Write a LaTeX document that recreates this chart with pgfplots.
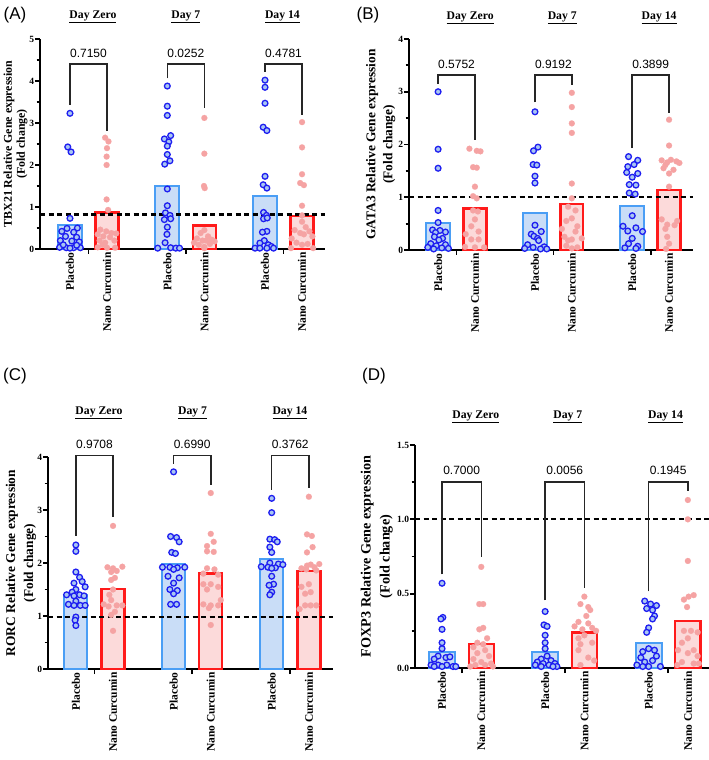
\documentclass[border=0pt]{standalone}
\usepackage{pgfplots}
\pgfplotsset{compat=1.18}
\usepackage{fontspec}
\setmainfont{Liberation Serif}
\newfontfamily\arial{Liberation Sans}
\definecolor{pbfill}{HTML}{C9DDF7}
\definecolor{pbedge}{HTML}{4A9EF5}
\definecolor{pblue}{HTML}{1E1EF0}
\definecolor{pmfill}{HTML}{A9C6F2}
\definecolor{nfill}{HTML}{FCDADA}
\definecolor{nedge}{HTML}{FF1A1A}
\definecolor{npink}{HTML}{F5A3A3}
\newcommand{\bracket}[5]{\draw[line width=1.5pt,black!85] (axis cs:#1,#3) |- (axis cs:#2,#5) -- (axis cs:#2,#4);}
\pgfplotsset{
  panel/.style={
    scale only axis, clip=false,
    axis x line=bottom, axis y line=left,
    axis line style={-, line width=2pt},
    tick align=outside, major tick length=5pt, minor tick length=3.5pt,
    tick style={line width=1.8pt, black},
    xtick={0.5,3.135,5.77}, xticklabels={},
    extra x ticks={0,1,2.63,3.63,5.27,6.27},
    extra x tick labels={Placebo,Nano Curcumin,Placebo,Nano Curcumin,Placebo,Nano Curcumin},
    extra x tick style={major tick length=0pt, tick label style={rotate=90, anchor=east, font=\bfseries\fontsize{11.5}{12}\selectfont}},
    yticklabel style={font=\bfseries\fontsize{9.5}{10}\selectfont, inner xsep=0.8pt},
    /pgf/number format/assume math mode=true,
    ylabel style={align=center, anchor=center},
  },
  pbar/.style={ybar, bar shift=0pt, fill=pbfill, draw=pbedge, line width=2pt},
  nbar/.style={ybar, bar shift=0pt, fill=nfill, draw=nedge, line width=2.4pt},
  pdot/.style={only marks, mark=*, mark size=2.9pt, color=pblue, mark options={draw=pblue, fill=pmfill, line width=1.3pt}},
  ndot/.style={only marks, mark=*, mark size=3pt, color=npink, mark options={draw=npink, fill=npink, line width=0.1pt}},
  dline/.style={black, line width=2.2pt, dash pattern=on 5pt off 3.5pt},
}
\newcommand{\pv}[3]{\node[font=\arial\fontsize{12}{12}\selectfont] at (axis cs:#1,#2) {#3};}
\newcommand{\dayl}[3]{\node[font=\bfseries\fontsize{11.7}{12}\selectfont] at (axis cs:#1,#2) {\underline{#3}};}
\begin{document}
\begin{tikzpicture}
\useasboundingbox (0,0) rectangle (709pt,760pt);
\node[font=\arial\fontsize{17}{17}\selectfont] at (15pt,745pt) {(A)};
\node[font=\arial\fontsize{17}{17}\selectfont] at (368pt,745pt) {(B)};
\node[font=\arial\fontsize{17}{17}\selectfont] at (15pt,384pt) {(C)};
\node[font=\arial\fontsize{17}{17}\selectfont] at (374pt,384pt) {(D)};

% ---------------- Panel A ----------------
\begin{axis}[panel, at={(40pt,511pt)}, anchor=south west, width=285pt, height=210pt,
  xmin=-0.81, xmax=6.89, ymin=0, ymax=5, ytick={0,1,2,3,4,5}, minor y tick num=1,
  ylabel={TBX21 Relative Gene expression\\(Fold change)},
  ylabel style={font=\bfseries\fontsize{11.9}{13}\selectfont, at={(axis description cs:-0.086,0.5)}}]
\addplot[pbar, bar width=0.64] coordinates {(0,0.58) (2.63,1.50) (5.27,1.26)};
\addplot[nbar, bar width=0.62] coordinates {(1,0.87) (3.63,0.56) (6.27,0.78)};
\addplot[pdot] table {
0 3.23
-0.06 2.43
0.03 2.31
0 0.73
0.2 0.5
-0.08 0.49
-0.22 0.42
0.1 0.4
-0.12 0.3
0.18 0.28
-0.26 0.2
0.05 0.19
0.25 0.17
-0.28 0.04
-0.1 0.03
0.1 0.03
0.28 0.03
-0.18 0.1
0.0 0.02
0.18 0.09
2.63 3.88
2.63 3.40
2.63 3.18
2.72 2.70
2.55 2.62
2.67 2.55
2.63 2.45
2.63 2.25
2.70 2.10
2.56 2.02
2.63 1.43
2.63 1.03
2.58 0.86
2.70 0.80
2.55 0.70
2.72 0.72
2.63 0.52
2.62 0.35
2.57 0.15
2.37 0.02
2.72 0.03
2.86 0.02
2.96 0.02
5.27 4.02
5.27 3.85
5.27 3.47
5.22 2.90
5.32 2.82
5.27 1.73
5.22 1.53
5.32 1.45
5.23 0.87
5.31 0.80
5.23 0.72
5.33 0.74
5.32 0.42
5.20 0.40
5.25 0.20
5.13 0.14
5.36 0.10
5.44 0.06
5.00 0.02
5.13 0.02
5.32 0.02
5.50 0.02
};
\addplot[ndot] table {
0.95 2.65
1.04 2.56
1.0 2.4
0.99 2.2
0.99 2.0
0.99 1.18
1.03 0.93
0.82 0.46
0.98 0.42
1.12 0.38
1.25 0.37
0.75 0.35
0.9 0.3
1.08 0.28
0.8 0.2
1.2 0.2
0.95 0.15
0.75 0.04
1.0 0.03
1.22 0.03
0.88 0.1
3.63 3.12
3.63 2.27
3.62 1.5
3.64 1.45
3.63 0.45
3.53 0.38
3.73 0.3
3.43 0.25
3.83 0.22
3.58 0.2
3.68 0.2
3.91 0.18
3.35 0.15
3.78 0.12
3.48 0.1
3.63 0.05
3.63 0.02
6.27 3.02
6.27 2.42
6.27 1.78
6.22 1.57
6.32 1.52
6.27 1.03
6.27 0.8
6.27 0.65
6.37 0.52
6.07 0.45
6.47 0.42
6.22 0.38
6.32 0.35
6.55 0.30
5.99 0.25
6.12 0.15
6.42 0.12
6.27 0.1
5.97 0.02
6.57 0.02
};
\addplot[dline] coordinates {(-0.81,0.82) (6.89,0.82)};
\bracket{0}{1}{3.43}{2.81}{4.40}
\bracket{2.63}{3.63}{4.06}{3.35}{4.40}
\bracket{5.27}{6.27}{4.22}{3.19}{4.40}
\pv{0.5}{4.66}{0.7150}
\pv{3.13}{4.66}{0.0252}
\pv{5.77}{4.66}{0.4781}
\dayl{0.62}{5.52}{Day Zero}
\dayl{3.13}{5.52}{Day 7}
\dayl{5.74}{5.52}{Day 14}
\end{axis}

% ---------------- Panel B ----------------
\begin{axis}[panel, at={(409pt,510pt)}, anchor=south west, width=284pt, height=211pt,
  xmin=-0.79, xmax=6.92, ymin=0, ymax=4, ytick={0,1,2,3,4}, minor y tick num=1,
  ylabel={GATA3 Relative Gene expression\\(Fold change)},
  ylabel style={font=\bfseries\fontsize{13.4}{17}\selectfont, at={(axis description cs:-0.1,0.5)}}]
\addplot[pbar, bar width=0.64] coordinates {(0,0.52) (2.63,0.71) (5.27,0.83)};
\addplot[nbar, bar width=0.62] coordinates {(1,0.79) (3.63,0.87) (6.27,1.14)};
\addplot[pdot] table {
0 3.0
0 1.91
0 1.55
0 0.75
0 0.52
-0.15 0.38
0.05 0.37
0.2 0.34
-0.07 0.33
-0.1 0.25
0.12 0.22
0.02 0.19
-0.2 0.12
0.2 0.1
-0.05 0.08
-0.28 0.05
0.1 0.04
0.28 0.03
-0.12 0.02
2.63 2.62
2.71 1.95
2.59 1.88
2.58 1.62
2.68 1.61
2.63 1.40
2.63 1.27
2.63 0.47
2.80 0.35
2.53 0.30
2.60 0.26
2.70 0.22
2.73 0.18
2.43 0.10
2.88 0.06
2.58 0.05
2.35 0.03
2.78 0.02
2.95 0.02
5.17 1.77
5.42 1.70
5.32 1.62
5.15 1.58
5.12 1.47
5.42 1.45
5.27 1.38
5.19 1.24
5.37 1.23
5.19 1.08
5.35 1.06
5.27 0.65
5.02 0.45
5.37 0.42
5.15 0.36
5.55 0.35
5.27 0.22
5.17 0.12
5.42 0.07
5.07 0.04
5.37 0.03
};
\addplot[ndot] table {
0.85 1.92
1.05 1.88
1.15 1.87
0.95 1.57
1.05 1.56
1.0 1.2
0.95 1.02
1.05 0.98
0.95 0.75
1.08 0.73
1.0 0.58
0.9 0.45
1.1 0.35
0.75 0.3
0.9 0.2
1.1 0.2
0.73 0.06
1.25 0.05
1.0 0.05
3.63 2.98
3.63 2.71
3.63 2.40
3.63 2.22
3.63 1.26
3.63 0.98
3.53 0.82
3.73 0.75
3.63 0.60
3.48 0.55
3.78 0.45
3.36 0.40
3.73 0.35
3.43 0.25
3.90 0.22
3.63 0.20
3.53 0.18
3.48 0.08
3.78 0.05
3.63 0.03
6.27 2.47
6.27 1.98
6.07 1.70
6.32 1.71
6.47 1.68
6.22 1.66
6.55 1.65
6.17 1.61
6.12 1.55
6.39 1.52
6.27 1.45
6.27 1.20
6.07 0.58
6.49 0.55
6.22 0.48
6.42 0.47
6.17 0.40
6.22 0.25
6.27 0.12
6.19 0.02
};
\addplot[dline] coordinates {(-0.79,1.01) (6.92,1.01)};
\bracket{0}{1}{3.15}{2.09}{3.32}
\bracket{2.63}{3.63}{2.80}{3.13}{3.32}
\bracket{5.27}{6.27}{1.93}{2.59}{3.32}
\pv{0.5}{3.51}{0.5752}
\pv{3.13}{3.51}{0.9192}
\pv{5.77}{3.51}{0.3899}
\dayl{0.87}{4.40}{Day Zero}
\dayl{3.37}{4.40}{Day 7}
\dayl{6.0}{4.40}{Day 14}
\end{axis}

% ---------------- Panel C ----------------
\begin{axis}[panel, at={(48pt,91pt)}, anchor=south west, width=285pt, height=212pt,
  xmin=-0.75, xmax=6.92, ymin=0, ymax=4, ytick={0,1,2,3,4}, minor y tick num=1,
  ylabel={RORC Relative Gene expression\\(Fold change)},
  ylabel style={font=\bfseries\fontsize{13.4}{18}\selectfont, at={(axis description cs:-0.095,0.5)}}]
\addplot[pbar, bar width=0.62] coordinates {(0,1.40) (2.63,1.98) (5.27,2.08)};
\addplot[nbar, bar width=0.62] coordinates {(1,1.51) (3.63,1.80) (6.27,1.85)};
\addplot[pdot] table {
0 2.34
0 2.22
0 1.83
0.1 1.73
0.17 1.65
-0.05 1.62
0.25 1.55
0.0 1.5
-0.1 1.45
-0.25 1.4
0.1 1.4
-0.05 1.38
0.22 1.38
0.0 1.28
-0.2 1.22
-0.05 1.2
0.12 1.2
0.25 1.2
0.0 0.98
-0.02 0.92
0.0 0.82
2.63 3.72
2.55 2.50
2.71 2.48
2.78 2.40
2.58 2.20
2.68 2.18
2.33 1.92
2.53 1.92
2.73 1.91
2.93 1.92
2.63 1.88
2.48 1.75
2.78 1.72
2.63 1.62
2.53 1.50
2.73 1.48
2.63 1.42
2.55 1.22
2.71 1.22
5.27 3.22
5.27 2.95
5.22 2.45
5.35 2.44
5.42 2.40
5.22 2.30
5.27 2.20
5.22 2.00
5.45 1.98
5.57 1.97
4.99 1.93
5.17 1.92
5.37 1.91
5.27 1.90
5.27 1.75
5.32 1.60
5.20 1.58
5.27 1.45
5.22 1.40
};
\addplot[ndot] table {
1 2.7
0.85 1.92
1.25 1.93
1 1.9
1.1 1.85
0.95 1.83
1.05 1.72
0.95 1.68
1 1.5
0.9 1.4
0.95 1.3
0.75 1.22
1.1 1.2
1.25 1.2
0.88 1.18
1.05 1.08
0.95 1.02
1 0.72
3.63 3.32
3.63 2.55
3.71 2.40
3.53 2.32
3.53 2.22
3.71 2.21
3.53 1.90
3.73 1.88
3.43 1.80
3.83 1.78
3.43 1.60
3.63 1.60
3.83 1.55
3.53 1.50
3.90 1.30
3.43 1.22
3.63 1.20
3.83 1.20
3.58 1.15
3.63 0.83
6.27 3.25
6.22 2.54
6.35 2.51
6.37 2.30
6.22 2.20
6.55 1.98
6.32 1.97
6.22 1.95
6.42 1.92
6.07 1.90
6.20 1.88
6.47 1.86
6.27 1.60
6.07 1.55
6.32 1.45
6.17 1.42
6.17 1.20
6.32 1.20
6.47 1.20
6.02 1.13
};
\addplot[dline] coordinates {(-0.75,0.98) (6.92,0.98)};
\bracket{0}{1}{2.51}{2.87}{4.03}
\bracket{2.63}{3.63}{3.87}{3.48}{4.03}
\bracket{5.27}{6.27}{3.38}{3.41}{4.03}
\pv{0.5}{4.23}{0.9708}
\pv{3.13}{4.23}{0.6990}
\pv{5.77}{4.23}{0.3762}
\dayl{0.62}{4.83}{Day Zero}
\dayl{3.14}{4.83}{Day 7}
\dayl{5.76}{4.83}{Day 14}
\end{axis}

% ---------------- Panel D ----------------
\begin{axis}[panel, at={(415pt,92pt)}, anchor=south west, width=294pt, height=223pt,
  xmin=-0.69, xmax=6.81, ymin=0, ymax=1.5, ytick={0,0.5,1,1.5}, minor y tick num=1,
  yticklabel style={/pgf/number format/.cd, fixed, fixed zerofill, precision=1},
  ylabel={FOXP3 Relative Gene expression\\(Fold change)},
  ylabel style={font=\bfseries\fontsize{14.2}{19}\selectfont, at={(axis description cs:-0.13,0.5)}}]
\addplot[pbar, bar width=0.66] coordinates {(0,0.107) (2.63,0.105) (5.27,0.17)};
\addplot[nbar, bar width=0.64] coordinates {(1,0.16) (3.63,0.24) (6.27,0.318)};
\addplot[pdot] table {
0 0.57
0.02 0.34
-0.03 0.33
0 0.26
0 0.17
0 0.13
-0.1 0.08
0.1 0.07
0.2 0.075
-0.2 0.06
-0.28 0.02
0.12 0.02
-0.1 0.02
0.28 0.01
0 0.01
-0.2 0.01
0.35 0.01
2.63 0.38
2.60 0.29
2.68 0.28
2.63 0.22
2.63 0.17
2.63 0.13
2.68 0.08
2.53 0.06
2.78 0.05
2.43 0.04
2.88 0.03
2.58 0.03
2.73 0.02
2.38 0.02
2.93 0.01
2.53 0.01
2.83 0.01
5.17 0.45
5.32 0.43
5.47 0.42
5.22 0.40
5.37 0.39
5.42 0.35
5.37 0.33
5.27 0.27
5.22 0.24
5.27 0.13
5.42 0.12
5.12 0.11
5.47 0.08
5.07 0.07
5.37 0.05
5.17 0.04
4.97 0.02
5.57 0.01
5.27 0.01
5.12 0.01
};
\addplot[ndot] table {
1 0.68
0.95 0.43
1.05 0.43
1.05 0.27
0.95 0.26
1.15 0.20
0.9 0.17
1.05 0.16
0.8 0.14
1.1 0.12
0.9 0.10
1.2 0.08
0.8 0.06
1 0.04
1.25 0.03
0.85 0.02
1.1 0.02
0.72 0.01
1.3 0.01
3.63 0.48
3.53 0.43
3.73 0.41
3.78 0.39
3.68 0.35
3.48 0.31
3.73 0.30
3.38 0.28
3.83 0.27
3.58 0.26
3.93 0.25
3.63 0.22
3.48 0.20
3.83 0.17
3.53 0.16
3.48 0.12
3.73 0.07
3.88 0.05
3.53 0.02
6.27 1.13
6.27 1.00
6.27 0.72
6.42 0.49
6.29 0.48
6.17 0.46
6.25 0.41
6.17 0.25
6.35 0.25
6.52 0.24
6.27 0.20
6.12 0.17
6.42 0.12
6.02 0.12
6.27 0.10
6.52 0.08
6.12 0.04
6.42 0.03
6.00 0.02
6.55 0.03
};
\addplot[dline] coordinates {(-0.69,1.0) (6.81,1.0)};
\bracket{0}{1}{0.63}{0.745}{1.25}
\bracket{2.63}{3.63}{0.455}{0.537}{1.25}
\bracket{5.27}{6.27}{0.515}{1.19}{1.25}
\pv{0.5}{1.33}{0.7000}
\pv{3.13}{1.33}{0.0056}
\pv{5.77}{1.33}{0.1945}
\dayl{0.86}{1.69}{Day Zero}
\dayl{3.21}{1.69}{Day 7}
\dayl{5.70}{1.69}{Day 14}
\end{axis}
\end{tikzpicture}
\end{document}
